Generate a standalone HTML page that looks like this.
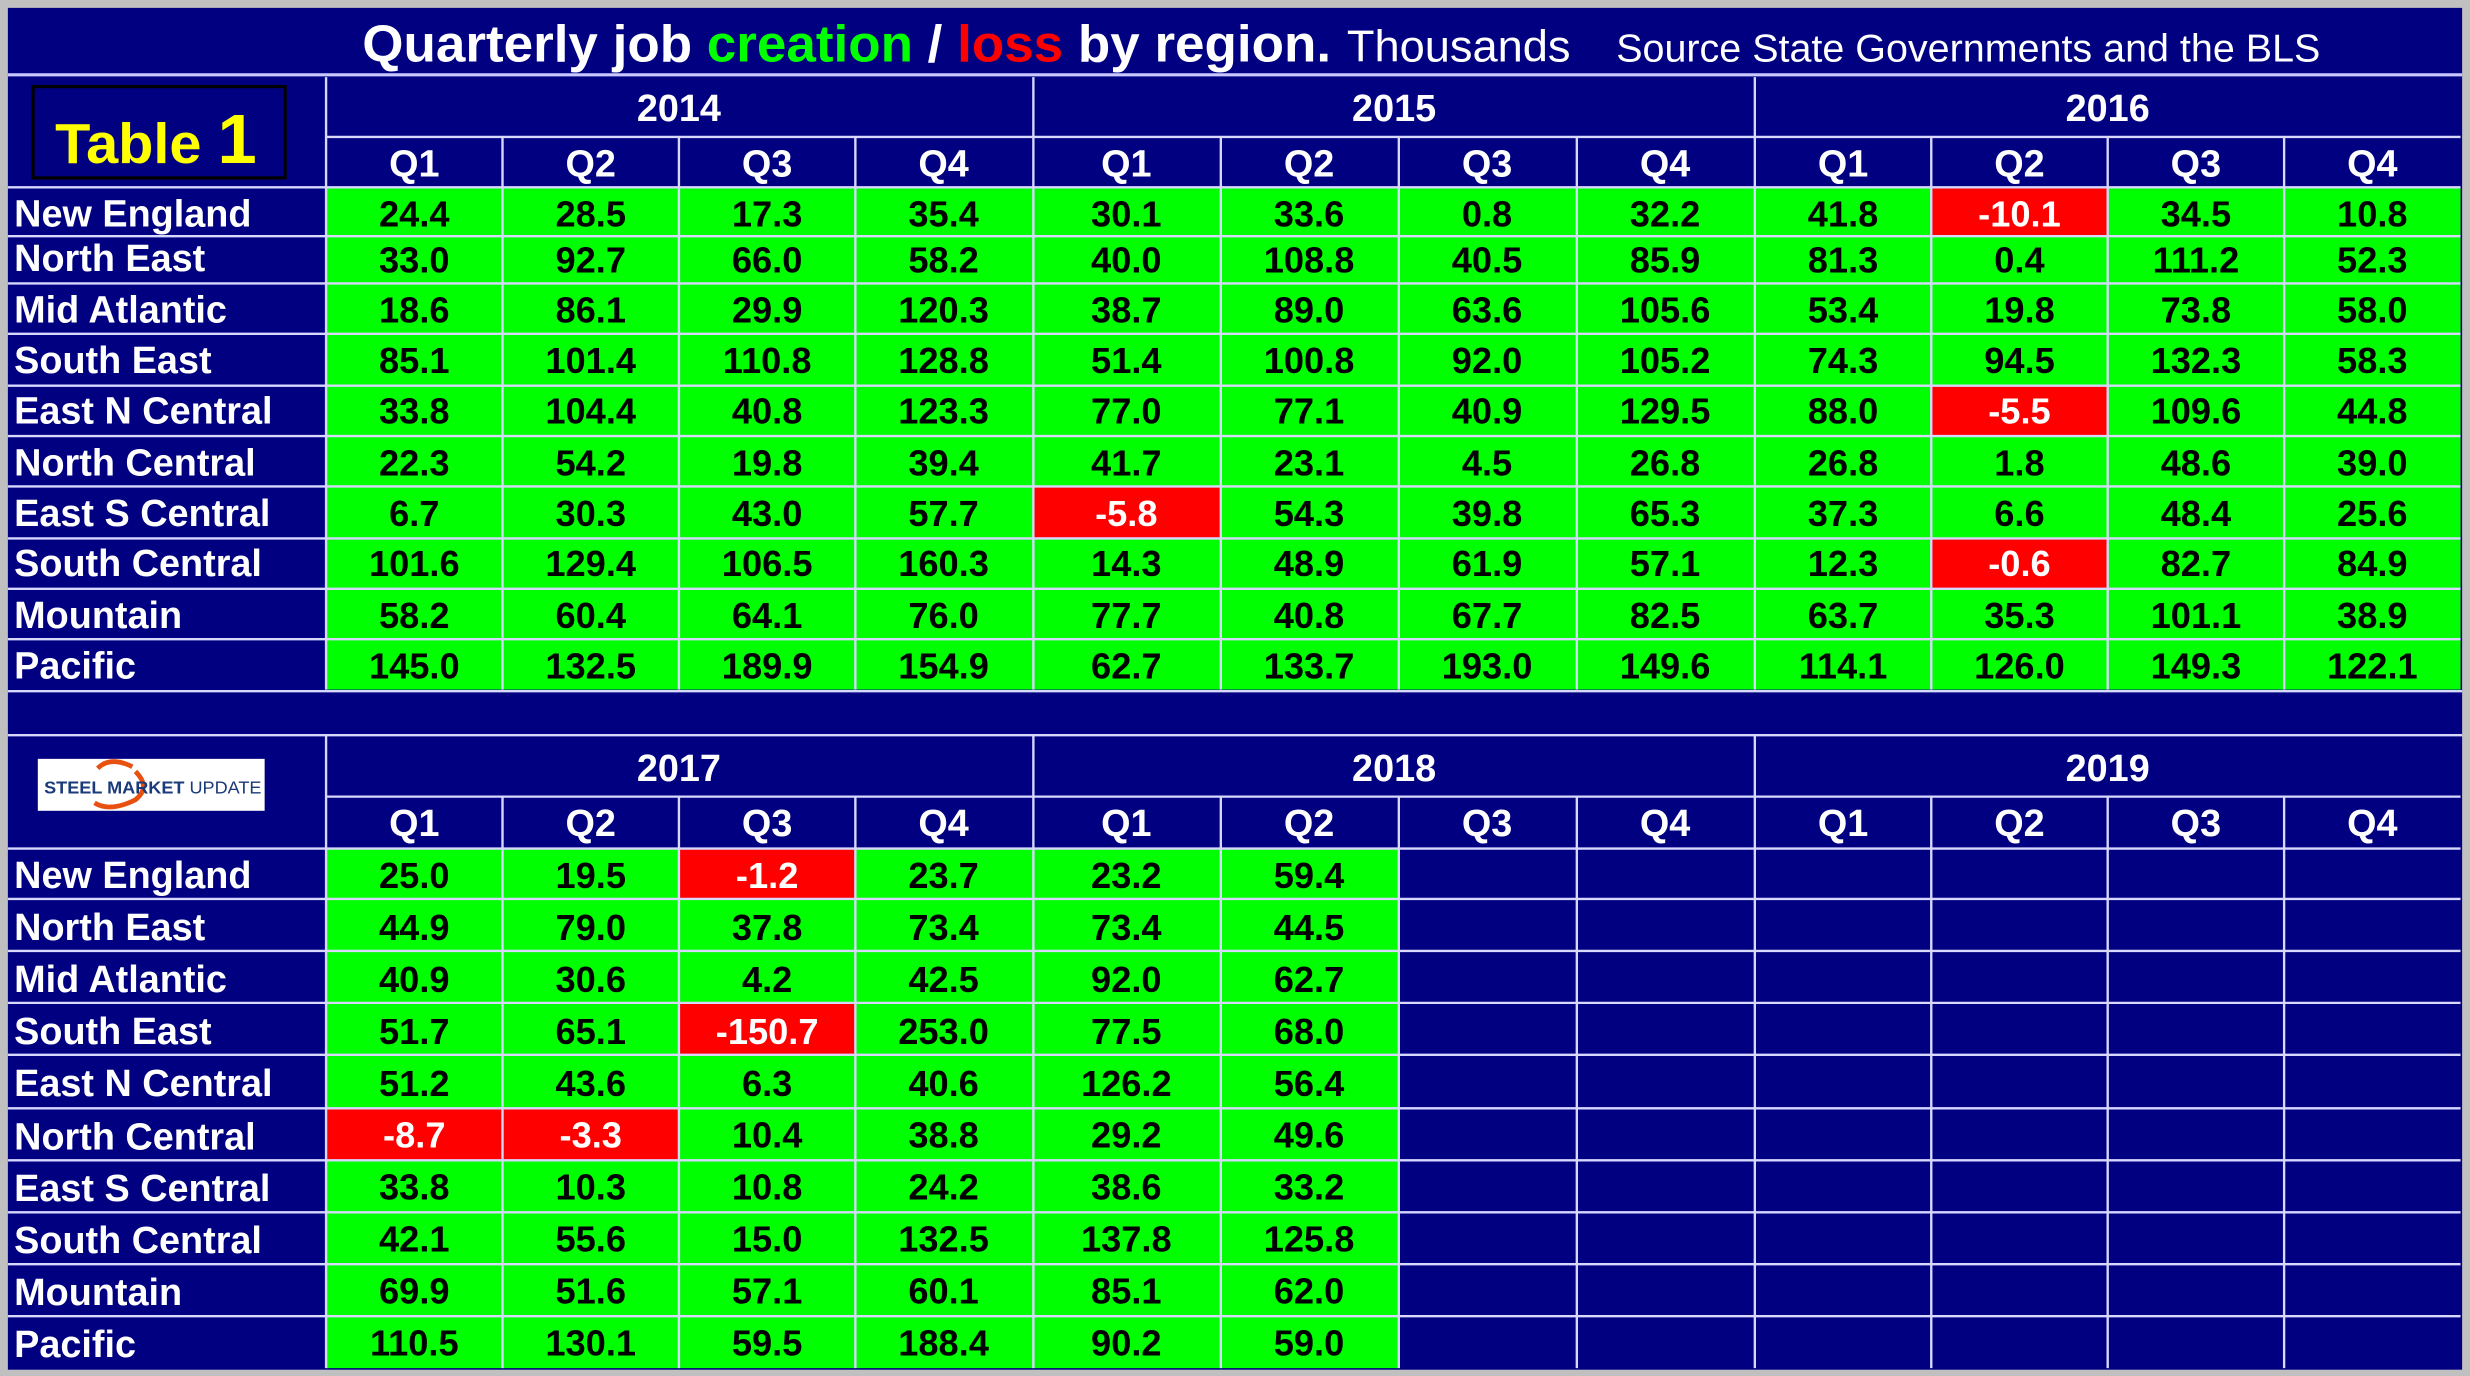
<!DOCTYPE html>
<html><head><meta charset="utf-8"><style>
html,body{margin:0;padding:0;background:#c0c0c0;}
svg{display:block;}
text{font-family:"Liberation Sans",Arial,sans-serif;font-weight:bold;}
.h{fill:#fff;font-size:24px;text-anchor:middle;}
.l{fill:#fff;font-size:24px;}
.d{fill:#000;font-size:23px;text-anchor:middle;}
.r{fill:#fff;font-size:23px;text-anchor:middle;}
</style></head><body>
<svg width="2470" height="1376" viewBox="0 0 1568 874" preserveAspectRatio="none" xmlns="http://www.w3.org/2000/svg">
<rect x="0" y="0" width="1568" height="874" fill="#c0c0c0"/>
<rect x="5" y="5" width="1558" height="865" fill="#000080"/>
<!-- title -->
<text x="230" y="39" style="font-size:33px" fill="#fff" textLength="615" lengthAdjust="spacingAndGlyphs">Quarterly job <tspan fill="#00ff00">creation</tspan> / <tspan fill="#ff0000">loss</tspan> by region.</text>
<text x="855" y="39" style="font-weight:normal;font-size:28px" fill="#fff" textLength="142" lengthAdjust="spacingAndGlyphs">Thousands</text>
<text x="1026" y="39" style="font-weight:normal;font-size:25px" fill="#fff" textLength="447" lengthAdjust="spacingAndGlyphs">Source State Governments and the BLS</text>
<line x1="5" y1="47.5" x2="1563" y2="47.5" stroke="#c8c8ff" stroke-width="2"/>
<!-- Table 1 box -->
<rect x="21" y="55" width="160" height="58" fill="#000080" stroke="#000" stroke-width="2"/>
<text x="35" y="103.5" style="font-size:36px" fill="#ffff00" textLength="128" lengthAdjust="spacingAndGlyphs">Table <tspan style="font-size:44px">1</tspan></text>
<!-- logo -->
<rect x="24" y="482" width="144" height="33" fill="#fff"/>
<path d="M84,487 Q70,480 62,488 M60,510 Q70,516 86,508 Q96,500 86,490" fill="none" stroke="#e85010" stroke-width="3"/>
<text x="28" y="504" style="font-size:11px" fill="#1a3a7a" textLength="138" lengthAdjust="spacingAndGlyphs">STEEL MARKET <tspan style="font-weight:normal">UPDATE</tspan></text>
<!-- green areas -->
<rect x="207" y="119" width="1355" height="319" fill="#00ff00"/>
<rect x="207" y="539" width="681" height="330" fill="#00ff00"/>
<!-- red cells -->
<g fill="#ff0000">
<rect x="1226" y="119" width="112" height="31"/>
<rect x="1226" y="245" width="112" height="32"/>
<rect x="656" y="309" width="119" height="33"/>
<rect x="1226" y="342" width="112" height="32"/>
<rect x="431" y="539" width="112" height="32"/>
<rect x="431" y="637" width="112" height="33"/>
<rect x="207" y="704" width="112" height="33"/>
<rect x="319" y="704" width="112" height="33"/>
</g>
<!-- grid lines -->
<g stroke="#d8d8ff" stroke-width="1.5">
<line x1="207" y1="49" x2="207" y2="438"/>
<line x1="656" y1="49" x2="656" y2="438"/>
<line x1="1114" y1="49" x2="1114" y2="438"/>
<line x1="207" y1="87" x2="1562" y2="87"/>
<line x1="319" y1="87" x2="319" y2="438"/><line x1="431" y1="87" x2="431" y2="438"/><line x1="543" y1="87" x2="543" y2="438"/>
<line x1="775" y1="87" x2="775" y2="438"/><line x1="888" y1="87" x2="888" y2="438"/><line x1="1001" y1="87" x2="1001" y2="438"/>
<line x1="1226" y1="87" x2="1226" y2="438"/><line x1="1338" y1="87" x2="1338" y2="438"/><line x1="1450" y1="87" x2="1450" y2="438"/>
<line x1="5" y1="119" x2="1562" y2="119"/><line x1="5" y1="150" x2="1562" y2="150"/><line x1="5" y1="180" x2="1562" y2="180"/>
<line x1="5" y1="212" x2="1562" y2="212"/><line x1="5" y1="245" x2="1562" y2="245"/><line x1="5" y1="277" x2="1562" y2="277"/>
<line x1="5" y1="309" x2="1562" y2="309"/><line x1="5" y1="342" x2="1562" y2="342"/><line x1="5" y1="374" x2="1562" y2="374"/>
<line x1="5" y1="406" x2="1562" y2="406"/><line x1="5" y1="439" x2="1563" y2="439"/>
<line x1="5" y1="467" x2="1563" y2="467"/>
<line x1="207" y1="467" x2="207" y2="869"/>
<line x1="656" y1="467" x2="656" y2="869"/>
<line x1="1114" y1="467" x2="1114" y2="869"/>
<line x1="207" y1="506" x2="1562" y2="506"/>
<line x1="319" y1="506" x2="319" y2="869"/><line x1="431" y1="506" x2="431" y2="869"/><line x1="543" y1="506" x2="543" y2="869"/>
<line x1="775" y1="506" x2="775" y2="869"/><line x1="888" y1="506" x2="888" y2="869"/><line x1="1001" y1="506" x2="1001" y2="869"/>
<line x1="1226" y1="506" x2="1226" y2="869"/><line x1="1338" y1="506" x2="1338" y2="869"/><line x1="1450" y1="506" x2="1450" y2="869"/>
<line x1="5" y1="539" x2="1562" y2="539"/><line x1="5" y1="571" x2="1562" y2="571"/><line x1="5" y1="604" x2="1562" y2="604"/>
<line x1="5" y1="637" x2="1562" y2="637"/><line x1="5" y1="670" x2="1562" y2="670"/><line x1="5" y1="704" x2="1562" y2="704"/>
<line x1="5" y1="737" x2="1562" y2="737"/><line x1="5" y1="770" x2="1562" y2="770"/><line x1="5" y1="803" x2="1562" y2="803"/>
<line x1="5" y1="836" x2="1562" y2="836"/>
</g>
<!-- headers top -->
<text class="h" x="431" y="77">2014</text><text class="h" x="885" y="77">2015</text><text class="h" x="1338" y="77">2016</text>
<text class="h" x="263" y="112">Q1</text><text class="h" x="375" y="112">Q2</text><text class="h" x="487" y="112">Q3</text><text class="h" x="599" y="112">Q4</text>
<text class="h" x="715" y="112">Q1</text><text class="h" x="831" y="112">Q2</text><text class="h" x="944" y="112">Q3</text><text class="h" x="1057" y="112">Q4</text>
<text class="h" x="1170" y="112">Q1</text><text class="h" x="1282" y="112">Q2</text><text class="h" x="1394" y="112">Q3</text><text class="h" x="1506" y="112">Q4</text>
<text class="h" x="431" y="496">2017</text><text class="h" x="885" y="496">2018</text><text class="h" x="1338" y="496">2019</text>
<text class="h" x="263" y="531">Q1</text><text class="h" x="375" y="531">Q2</text><text class="h" x="487" y="531">Q3</text><text class="h" x="599" y="531">Q4</text>
<text class="h" x="715" y="531">Q1</text><text class="h" x="831" y="531">Q2</text><text class="h" x="944" y="531">Q3</text><text class="h" x="1057" y="531">Q4</text>
<text class="h" x="1170" y="531">Q1</text><text class="h" x="1282" y="531">Q2</text><text class="h" x="1394" y="531">Q3</text><text class="h" x="1506" y="531">Q4</text>
<!-- row labels top -->
<text class="l" x="9" y="144">New England</text>
<text class="l" x="9" y="172">North East</text>
<text class="l" x="9" y="205">Mid Atlantic</text>
<text class="l" x="9" y="237">South East</text>
<text class="l" x="9" y="269">East N Central</text>
<text class="l" x="9" y="302">North Central</text>
<text class="l" x="9" y="334">East S Central</text>
<text class="l" x="9" y="366">South Central</text>
<text class="l" x="9" y="399">Mountain</text>
<text class="l" x="9" y="431">Pacific</text>
<!-- row labels bottom -->
<text class="l" x="9" y="564">New England</text>
<text class="l" x="9" y="597">North East</text>
<text class="l" x="9" y="630">Mid Atlantic</text>
<text class="l" x="9" y="663">South East</text>
<text class="l" x="9" y="696">East N Central</text>
<text class="l" x="9" y="730">North Central</text>
<text class="l" x="9" y="763">East S Central</text>
<text class="l" x="9" y="796">South Central</text>
<text class="l" x="9" y="829">Mountain</text>
<text class="l" x="9" y="862">Pacific</text>
<!-- data top -->
<g>
<text class="d" x="263" y="144">24.4</text><text class="d" x="375" y="144">28.5</text><text class="d" x="487" y="144">17.3</text><text class="d" x="599" y="144">35.4</text><text class="d" x="715" y="144">30.1</text><text class="d" x="831" y="144">33.6</text><text class="d" x="944" y="144">0.8</text><text class="d" x="1057" y="144">32.2</text><text class="d" x="1170" y="144">41.8</text><text class="r" x="1282" y="144">-10.1</text><text class="d" x="1394" y="144">34.5</text><text class="d" x="1506" y="144">10.8</text>
<text class="d" x="263" y="173">33.0</text><text class="d" x="375" y="173">92.7</text><text class="d" x="487" y="173">66.0</text><text class="d" x="599" y="173">58.2</text><text class="d" x="715" y="173">40.0</text><text class="d" x="831" y="173">108.8</text><text class="d" x="944" y="173">40.5</text><text class="d" x="1057" y="173">85.9</text><text class="d" x="1170" y="173">81.3</text><text class="d" x="1282" y="173">0.4</text><text class="d" x="1394" y="173">111.2</text><text class="d" x="1506" y="173">52.3</text>
<text class="d" x="263" y="205">18.6</text><text class="d" x="375" y="205">86.1</text><text class="d" x="487" y="205">29.9</text><text class="d" x="599" y="205">120.3</text><text class="d" x="715" y="205">38.7</text><text class="d" x="831" y="205">89.0</text><text class="d" x="944" y="205">63.6</text><text class="d" x="1057" y="205">105.6</text><text class="d" x="1170" y="205">53.4</text><text class="d" x="1282" y="205">19.8</text><text class="d" x="1394" y="205">73.8</text><text class="d" x="1506" y="205">58.0</text>
<text class="d" x="263" y="237">85.1</text><text class="d" x="375" y="237">101.4</text><text class="d" x="487" y="237">110.8</text><text class="d" x="599" y="237">128.8</text><text class="d" x="715" y="237">51.4</text><text class="d" x="831" y="237">100.8</text><text class="d" x="944" y="237">92.0</text><text class="d" x="1057" y="237">105.2</text><text class="d" x="1170" y="237">74.3</text><text class="d" x="1282" y="237">94.5</text><text class="d" x="1394" y="237">132.3</text><text class="d" x="1506" y="237">58.3</text>
<text class="d" x="263" y="269">33.8</text><text class="d" x="375" y="269">104.4</text><text class="d" x="487" y="269">40.8</text><text class="d" x="599" y="269">123.3</text><text class="d" x="715" y="269">77.0</text><text class="d" x="831" y="269">77.1</text><text class="d" x="944" y="269">40.9</text><text class="d" x="1057" y="269">129.5</text><text class="d" x="1170" y="269">88.0</text><text class="r" x="1282" y="269">-5.5</text><text class="d" x="1394" y="269">109.6</text><text class="d" x="1506" y="269">44.8</text>
<text class="d" x="263" y="302">22.3</text><text class="d" x="375" y="302">54.2</text><text class="d" x="487" y="302">19.8</text><text class="d" x="599" y="302">39.4</text><text class="d" x="715" y="302">41.7</text><text class="d" x="831" y="302">23.1</text><text class="d" x="944" y="302">4.5</text><text class="d" x="1057" y="302">26.8</text><text class="d" x="1170" y="302">26.8</text><text class="d" x="1282" y="302">1.8</text><text class="d" x="1394" y="302">48.6</text><text class="d" x="1506" y="302">39.0</text>
<text class="d" x="263" y="334">6.7</text><text class="d" x="375" y="334">30.3</text><text class="d" x="487" y="334">43.0</text><text class="d" x="599" y="334">57.7</text><text class="r" x="715" y="334">-5.8</text><text class="d" x="831" y="334">54.3</text><text class="d" x="944" y="334">39.8</text><text class="d" x="1057" y="334">65.3</text><text class="d" x="1170" y="334">37.3</text><text class="d" x="1282" y="334">6.6</text><text class="d" x="1394" y="334">48.4</text><text class="d" x="1506" y="334">25.6</text>
<text class="d" x="263" y="366">101.6</text><text class="d" x="375" y="366">129.4</text><text class="d" x="487" y="366">106.5</text><text class="d" x="599" y="366">160.3</text><text class="d" x="715" y="366">14.3</text><text class="d" x="831" y="366">48.9</text><text class="d" x="944" y="366">61.9</text><text class="d" x="1057" y="366">57.1</text><text class="d" x="1170" y="366">12.3</text><text class="r" x="1282" y="366">-0.6</text><text class="d" x="1394" y="366">82.7</text><text class="d" x="1506" y="366">84.9</text>
<text class="d" x="263" y="399">58.2</text><text class="d" x="375" y="399">60.4</text><text class="d" x="487" y="399">64.1</text><text class="d" x="599" y="399">76.0</text><text class="d" x="715" y="399">77.7</text><text class="d" x="831" y="399">40.8</text><text class="d" x="944" y="399">67.7</text><text class="d" x="1057" y="399">82.5</text><text class="d" x="1170" y="399">63.7</text><text class="d" x="1282" y="399">35.3</text><text class="d" x="1394" y="399">101.1</text><text class="d" x="1506" y="399">38.9</text>
<text class="d" x="263" y="431">145.0</text><text class="d" x="375" y="431">132.5</text><text class="d" x="487" y="431">189.9</text><text class="d" x="599" y="431">154.9</text><text class="d" x="715" y="431">62.7</text><text class="d" x="831" y="431">133.7</text><text class="d" x="944" y="431">193.0</text><text class="d" x="1057" y="431">149.6</text><text class="d" x="1170" y="431">114.1</text><text class="d" x="1282" y="431">126.0</text><text class="d" x="1394" y="431">149.3</text><text class="d" x="1506" y="431">122.1</text>
</g>
<!-- data bottom -->
<g>
<text class="d" x="263" y="564">25.0</text><text class="d" x="375" y="564">19.5</text><text class="r" x="487" y="564">-1.2</text><text class="d" x="599" y="564">23.7</text><text class="d" x="715" y="564">23.2</text><text class="d" x="831" y="564">59.4</text>
<text class="d" x="263" y="597">44.9</text><text class="d" x="375" y="597">79.0</text><text class="d" x="487" y="597">37.8</text><text class="d" x="599" y="597">73.4</text><text class="d" x="715" y="597">73.4</text><text class="d" x="831" y="597">44.5</text>
<text class="d" x="263" y="630">40.9</text><text class="d" x="375" y="630">30.6</text><text class="d" x="487" y="630">4.2</text><text class="d" x="599" y="630">42.5</text><text class="d" x="715" y="630">92.0</text><text class="d" x="831" y="630">62.7</text>
<text class="d" x="263" y="663">51.7</text><text class="d" x="375" y="663">65.1</text><text class="r" x="487" y="663">-150.7</text><text class="d" x="599" y="663">253.0</text><text class="d" x="715" y="663">77.5</text><text class="d" x="831" y="663">68.0</text>
<text class="d" x="263" y="696">51.2</text><text class="d" x="375" y="696">43.6</text><text class="d" x="487" y="696">6.3</text><text class="d" x="599" y="696">40.6</text><text class="d" x="715" y="696">126.2</text><text class="d" x="831" y="696">56.4</text>
<text class="r" x="263" y="729">-8.7</text><text class="r" x="375" y="729">-3.3</text><text class="d" x="487" y="729">10.4</text><text class="d" x="599" y="729">38.8</text><text class="d" x="715" y="729">29.2</text><text class="d" x="831" y="729">49.6</text>
<text class="d" x="263" y="762">33.8</text><text class="d" x="375" y="762">10.3</text><text class="d" x="487" y="762">10.8</text><text class="d" x="599" y="762">24.2</text><text class="d" x="715" y="762">38.6</text><text class="d" x="831" y="762">33.2</text>
<text class="d" x="263" y="795">42.1</text><text class="d" x="375" y="795">55.6</text><text class="d" x="487" y="795">15.0</text><text class="d" x="599" y="795">132.5</text><text class="d" x="715" y="795">137.8</text><text class="d" x="831" y="795">125.8</text>
<text class="d" x="263" y="828">69.9</text><text class="d" x="375" y="828">51.6</text><text class="d" x="487" y="828">57.1</text><text class="d" x="599" y="828">60.1</text><text class="d" x="715" y="828">85.1</text><text class="d" x="831" y="828">62.0</text>
<text class="d" x="263" y="861">110.5</text><text class="d" x="375" y="861">130.1</text><text class="d" x="487" y="861">59.5</text><text class="d" x="599" y="861">188.4</text><text class="d" x="715" y="861">90.2</text><text class="d" x="831" y="861">59.0</text>
</g>
</svg>
</body></html>
